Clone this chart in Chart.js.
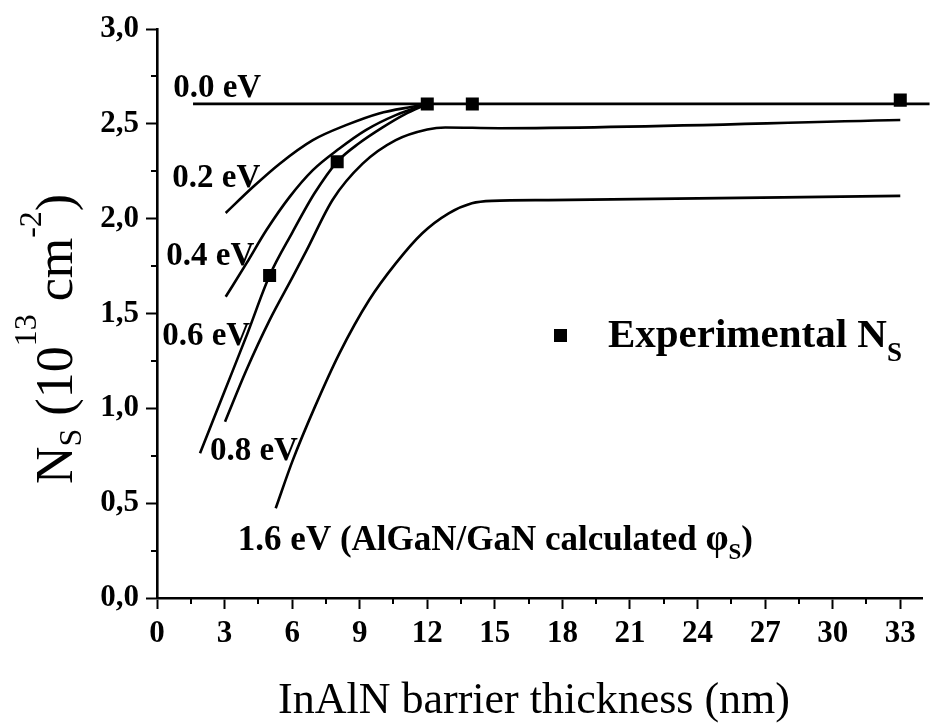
<!DOCTYPE html>
<html>
<head>
<meta charset="utf-8">
<script src="https://cdn.jsdelivr.net/npm/chart.js@4.4.1/dist/chart.umd.min.js"></script>
<style>
html,body{margin:0;padding:0;background:#fff;}
#wrap{width:932px;height:725px;position:relative;}
canvas{display:block;}
</style>
</head>
<body>
<div id="wrap"><canvas id="c" width="932" height="725"></canvas></div>
<script>
// ---- data ----
const expThickness = [5, 8, 12, 14, 33];
const expNs        = [1.70, 2.30, 2.605, 2.605, 2.625];

const thick00 = [1.6, 34.3];
const ns00    = [2.605, 2.605];

const thick02 = [3.05, 4.27, 5.45, 6.92, 8.39, 9.86, 11.33, 12.0];
const ns02    = [2.03, 2.168, 2.29, 2.414, 2.493, 2.555, 2.59, 2.604];

const thick04 = [3.05, 3.97, 4.86, 5.89, 6.92, 8.1, 9.27, 10.6, 12.0];
const ns04    = [1.588, 1.764, 1.94, 2.115, 2.256, 2.37, 2.467, 2.546, 2.604];

const thick06 = [1.91, 3.0, 4.0, 5.0, 6.0, 7.0, 8.0, 9.0, 10.0, 11.0, 12.0];
const ns06    = [0.763, 1.09, 1.39, 1.70, 1.925, 2.135, 2.30, 2.40, 2.48, 2.55, 2.604];

const thick08 = [3.02, 3.97, 5.0, 6.03, 6.63, 7.8, 9.13, 10.6, 12.0, 12.8, 15.2, 33];
const ns08    = [0.929, 1.202, 1.465, 1.694, 1.83, 2.1, 2.29, 2.414, 2.47, 2.481, 2.477, 2.52];

const thick16 = [5.27, 6.03, 7.0, 8.1, 9.42, 10.6, 11.78, 12.95, 13.98, 14.87, 17.37, 33];
const ns16    = [0.473, 0.727, 1.005, 1.29, 1.571, 1.764, 1.923, 2.028, 2.081, 2.094, 2.098, 2.12];

const xTickStep = 3;
const yTickStep = 0.5;
const xMinorTicks = [1.5, 4.5, 7.5, 10.5, 13.5, 16.5, 19.5, 22.5, 25.5, 28.5, 31.5];
const yMinorTicks = [0.25, 0.75, 1.25, 1.75, 2.25, 2.75];

const curveLabels = ['0.0 eV', '0.2 eV', '0.4 eV', '0.6 eV', '0.8 eV'];
const xTitle = 'InAlN barrier thickness (nm)';
const legendText = 'Experimental N';

// ---- helpers ----
function pts(xs, ys){ return xs.map((x,i)=>({x:x, y:ys[i]})); }
function curve(xs, ys, w){
  return {data: pts(xs, ys), showLine: true, borderColor: '#000', borderWidth: w || 2.6,
    pointRadius: 0, cubicInterpolationMode: 'monotone', fill: false};
}
const SERIF = '"Liberation Serif", "Times New Roman", serif';

function drawRuns(ctx, x, y, runs){
  let cx = x;
  runs.forEach(r => {
    ctx.font = (r.weight || 'bold') + ' ' + r.size + 'px ' + SERIF;
    ctx.fillText(r.t, cx, y + (r.dy || 0));
    cx += ctx.measureText(r.t).width;
  });
}

const textPlugin = {
  id: 'texts',
  afterDraw(chart){
    const ctx = chart.ctx, xs = chart.scales.x, ys = chart.scales.y;
    const X = v => xs.getPixelForValue(v), Y = v => ys.getPixelForValue(v);
    ctx.save();
    // minor ticks
    ctx.strokeStyle = '#000'; ctx.lineWidth = 2;
    const b = chart.chartArea.bottom, l = chart.chartArea.left;
    xMinorTicks.forEach(v => { const p = Math.round(X(v)); ctx.beginPath(); ctx.moveTo(p, b); ctx.lineTo(p, b + 6); ctx.stroke(); });
    yMinorTicks.forEach(v => { const p = Math.round(Y(v)); ctx.beginPath(); ctx.moveTo(l, p); ctx.lineTo(l - 6, p); ctx.stroke(); });

    ctx.fillStyle = '#000';
    ctx.textBaseline = 'alphabetic';
    ctx.textAlign = 'left';
    // curve labels (anchored in data units)
    const lab = [[0.72, 2.641], [0.68, 2.167], [0.41, 1.755], [0.23, 1.334], [2.35, 0.727]];
    curveLabels.forEach((t, i) => drawRuns(ctx, X(lab[i][0]), Y(lab[i][1]), [{t: t, size: 33}]));
    drawRuns(ctx, X(3.59), Y(0.253), [
      {t: '1.6 eV (AlGaN/GaN calculated ', size: 35},
      {t: '\u03C6', size: 37},
      {t: 'S', size: 23, dy: 9},
      {t: ')', size: 35}
    ]);
    // legend
    const sx = X(17.9), sy = Y(1.386);
    ctx.fillRect(Math.round(sx - 6.5), Math.round(sy - 6.5), 13, 13);
    drawRuns(ctx, X(20.02), Y(1.323), [
      {t: legendText, size: 41},
      {t: 'S', size: 27, dy: 14}
    ]);
    // x title
    ctx.font = '44px ' + SERIF;
    ctx.textAlign = 'center';
    ctx.fillText(xTitle, 534, 713);
    // y title (rotated)
    ctx.textAlign = 'left';
    ctx.translate(72, 484);
    ctx.rotate(-Math.PI / 2);
    drawRuns(ctx, 0, 0, [
      {t: 'N', size: 52, weight: 'normal'},
      {t: 'S', size: 32, dy: 9, weight: 'normal'},
      {t: ' (10', size: 52, weight: 'normal'},
      {t: '13', size: 32, dy: -36, weight: 'normal'},
      {t: ' cm', size: 52, weight: 'normal'},
      {t: '-2', size: 32, dy: -31, weight: 'normal'},
      {t: ')', size: 52, weight: 'normal'}
    ]);
    ctx.restore();
  }
};

const tickFont = {family: SERIF, weight: 'bold', size: 31};

new Chart(document.getElementById('c'), {
  type: 'scatter',
  data: {
    datasets: [
      {data: pts(expThickness, expNs), showLine: false, pointStyle: 'rect', pointRadius: 9.2,
       backgroundColor: '#000', borderWidth: 0},
      Object.assign(curve(thick00, ns00, 2.8), {clip: false}),
      curve(thick02, ns02),
      curve(thick04, ns04),
      curve(thick06, ns06),
      curve(thick08, ns08),
      curve(thick16, ns16)
    ]
  },
  options: {
    responsive: false,
    devicePixelRatio: 1,
    animation: false,
    layout: {padding: {top: 29, right: 7, left: 0, bottom: 0}},
    plugins: {legend: {display: false}, tooltip: {enabled: false}},
    scales: {
      x: {
        type: 'linear', position: 'bottom', min: 0, max: 34,
        ticks: {stepSize: xTickStep, includeBounds: false, font: tickFont, color: '#000',
                padding: 6, maxRotation: 0, autoSkip: false},
        grid: {drawOnChartArea: false, drawTicks: true, tickLength: 11, tickWidth: 2, color: '#000'},
        border: {display: true, color: '#000', width: 2.6},
        afterFit: s => { s.height = 127; }
      },
      y: {
        type: 'linear', position: 'left', min: 0, max: 3,
        ticks: {stepSize: yTickStep, font: tickFont, color: '#000', padding: 7,
                callback: v => Number(v).toFixed(1).replace('.', ',')},
        grid: {drawOnChartArea: false, drawTicks: true, tickLength: 11, tickWidth: 2, color: '#000'},
        border: {display: true, color: '#000', width: 2.6},
        afterFit: s => { s.width = 157; }
      }
    }
  },
  plugins: [textPlugin]
});
</script>
</body>
</html>
